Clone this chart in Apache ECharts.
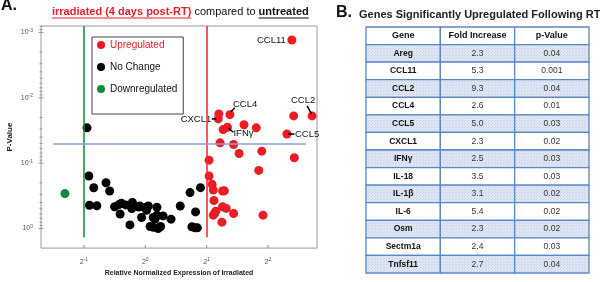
<!DOCTYPE html>
<html>
<head>
<meta charset="utf-8">
<script src="https://cdn.jsdelivr.net/npm/echarts@6/dist/echarts.min.js"></script>
<style>
  body { margin: 0; background: #fff; }
  #chart { width: 600px; height: 282px; }
</style>
</head>
<body>
<div id="chart"></div>
<script>
// scatter: x = log2 relative expression, y = p-value
const upLog2 = [2.39, 1.20, 1.19, 1.38, 1.27, 1.34, 1.61, 1.81, 2.42, 2.72, 2.31, 1.22, 1.44, 1.53, 1.90, 2.43,
  1.04, 1.85, 1.04, 1.09, 1.11, 1.26, 1.29, 1.12, 1.26, 1.32, 1.15, 1.13, 1.11, 1.44, 1.92, 1.25];
const upP = [0.0013, 0.0176, 0.021, 0.0181, 0.0306, 0.0282, 0.0258, 0.0288, 0.0189, 0.0189, 0.0358, 0.0488, 0.0518, 0.071, 0.0655, 0.0826,
  0.0898, 0.129, 0.157, 0.211, 0.258, 0.267, 0.265, 0.373, 0.465, 0.493, 0.543, 0.589, 0.625, 0.589, 0.625, 0.80];
const upLabel = ["CCL11", "", "CXCL1", "CCL4", "", "IFNγ", "", "", "", "CCL2", "CCL5"];

const ncLog2 = [-0.95, -0.92, -0.84, -0.64, -0.58, -0.91, -0.79, -0.50, -0.43, -0.39, -0.32, -0.25, -0.21, -0.22, -0.11, -0.41,
  -0.25, -0.06, -0.09, -0.01, 0.05, 0.02, 0.13, 0.19, 0.29, 0.16, 0.08, 0.13, 0.21, 0.25, 0.42, 0.57, 0.73, 0.90, 0.82,
  0.76, 0.81, 0.85, 0.19];
const ncP = [0.0288, 0.157, 0.238, 0.199, 0.267, 0.441, 0.449, 0.465, 0.43, 0.41, 0.435, 0.44, 0.40, 0.494, 0.468, 0.60,
  0.88, 0.678, 0.452, 0.478, 0.452, 0.525, 0.678, 0.625, 0.641, 0.72, 0.93, 0.96, 1.0, 0.93, 0.72, 0.452, 0.282, 0.237, 0.557,
  0.944, 0.977, 0.977, 0.472];

const dnLog2 = [-1.31];
const dnP = [0.292];

const pCutoff = 0.05;
const foldCut = [-1, 1];

const xTickLabels = [-1, 0, 1, 2];      // 2^n
const yDecades = [-4, -3, -2, -1, 0];   // 10^n
const logMinor = [1, 2, 3, 4, 5, 6, 7, 8, 9];

// table
const tableHead = ["Gene", "Fold Increase", "p-Value"];
const genes = ["Areg", "CCL11", "CCL2", "CCL4", "CCL5", "CXCL1", "IFNγ", "IL-18", "IL-1β", "IL-6", "Osm", "Sectm1a", "Tnfsf11"];
const foldInc = ["2.3", "5.3", "9.3", "2.6", "5.0", "2.3", "2.5", "3.5", "3.1", "5.4", "2.3", "2.4", "2.7"];
const pVals = ["0.04", "0.001", "0.04", "0.01", "0.03", "0.02", "0.03", "0.03", "0.02", "0.02", "0.02", "0.03", "0.04"];

const X_MIN = -1.7, X_MAX = 2.8, Y_MIN = -3.1, Y_MAX = 0.3;
const FONT = '"Liberation Sans", Arial, sans-serif';
const RED = "#ec1c24", GREEN = "#0f8a3c", GRAY = "#9a9a9a";

const toPts = (xs, ps) => xs.map((x, i) => [x, Math.log10(ps[i])]);

// label placement for the named points (px offsets from the dot)
const annot = {
  "CCL11": { dx: -6, dy: 0, align: "right" },
  "CCL4": { dx: 3, dy: -10, align: "left", line: [1, -3, 5, -7] },
  "CXCL1": { dx: -7, dy: 0, align: "right", line: [-6.5, 0, -2, 0] },
  "IFNγ": { dx: 6, dy: 6.5, align: "left", line: [1, 1, 6, 5] },
  "CCL2": { dx: -9, dy: -16, align: "center", line: [-5, -10, -0.5, -2] },
  "CCL5": { dx: 8, dy: 0.5, align: "left", line: [1, 0, 7.5, 0] },
};
const annotData = [];
upLabel.forEach((g, i) => { if (g) annotData.push([upLog2[i], Math.log10(upP[i]), g]); });

const yTicks = [];
yDecades.forEach((d) => logMinor.forEach((k) => {
  const v = d + Math.log10(k);
  if (v >= Y_MIN && v <= Y_MAX) yTicks.push([X_MIN, v, k === 1 ? 1 : 0]);
}));
const xTicks = xTickLabels.map((v) => [v, Y_MAX]);

const cells = [];
[tableHead].concat(genes.map((g, i) => [g, foldInc[i], pVals[i]])).forEach((row, r) => {
  row.forEach((t, c) => cells.push({ value: [c, r], text: t, head: r === 0, shade: r % 2 === 1, bold: r === 0 || c === 0 }));
});

// dotted fill of the shaded table rows
const tile = document.createElement("canvas");
tile.width = 3; tile.height = 3;
const tctx = tile.getContext("2d");
tctx.fillStyle = "#dde6f2";
tctx.fillRect(0, 0, 3, 3);
tctx.fillStyle = "#c8d5e9";
tctx.fillRect(0, 0, 1, 1);
tctx.fillRect(2, 1, 1, 1);
const shadeFill = { image: tile, repeat: "repeat" };

// title pieces, measured so the underlines fit
const mctx = document.createElement("canvas").getContext("2d");
function textW(t, size, bold) {
  mctx.font = (bold ? "bold " : "") + size + "px " + FONT;
  return mctx.measureText(t).width;
}
const titleParts = [
  { t: "irradiated (4 days post-RT)", bold: true, color: RED, under: true },
  { t: " compared to ", bold: false, color: "#111", under: false },
  { t: "untreated", bold: true, color: "#111", under: true },
];
const graphics = [
  { type: "text", left: 1, top: -2, style: { text: "A.", font: "bold 16px " + FONT, fill: "#111" } },
  { type: "text", left: 336, top: 5, style: { text: "B.", font: "bold 16px " + FONT, fill: "#111" } },
  { type: "text", left: 359, top: 9, style: { text: "Genes Significantly Upregulated Following RT", font: "bold 11px " + FONT, fill: "#222" } },
];
let tx = 52;
titleParts.forEach((p) => {
  const w = textW(p.t, 11, p.bold);
  graphics.push({ type: "text", left: tx, top: 6, style: { text: p.t, font: (p.bold ? "bold " : "") + "11px " + FONT, fill: p.color } });
  if (p.under) graphics.push({ type: "line", shape: { x1: tx, y1: 18, x2: tx + w, y2: 18 }, style: { stroke: p.color, lineWidth: 1 } });
  tx += w;
});

const chart = echarts.init(document.getElementById("chart"));
const isInt = (v) => Math.abs(v - Math.round(v)) < 1e-6;

const option = {
  animation: false,
  textStyle: { fontFamily: FONT },
  graphic: graphics,
  legend: {
    orient: "vertical",
    left: 92, top: 37,
    icon: "circle",
    itemWidth: 8, itemHeight: 8, itemGap: 12,
    padding: [3, 6, 20, 5],
    borderColor: "#444", borderWidth: 1,
    selectedMode: false,
    textStyle: { fontSize: 10, color: "#111", lineHeight: 10 },
    data: [{ name: "Upregulated", textStyle: { color: RED } }, "No Change", "Downregulated"],
  },
  grid: [
    { left: 41, top: 26, width: 276, height: 223, show: true, borderColor: GRAY, borderWidth: 1 },
    { left: 366, top: 27, width: 223, height: 246 },
  ],
  xAxis: [
    {
      type: "value", gridIndex: 0, min: X_MIN, max: X_MAX, interval: 0.1,
      name: "Relative Normalized Expression of Irradiated", nameLocation: "middle", nameGap: 20,
      nameTextStyle: { fontSize: 7, fontWeight: "bold", color: "#222" },
      axisLine: { show: false }, axisTick: { show: false }, splitLine: { show: false },
      axisLabel: {
        margin: 9, color: "#555",
        formatter: (v) => (isInt(v) ? "{b|2}{s|" + Math.round(v) + "}" : ""),
        rich: { b: { fontSize: 7, color: "#555" }, s: { fontSize: 5, color: "#555", verticalAlign: "bottom", padding: [0, 0, 4, 0] } },
      },
    },
    { type: "category", gridIndex: 1, data: tableHead, show: false },
  ],
  yAxis: [
    {
      type: "value", gridIndex: 0, min: Y_MIN, max: Y_MAX, interval: 0.1, inverse: true,
      name: "P-Value", nameLocation: "middle", nameGap: 27, nameRotate: 90,
      nameTextStyle: { fontSize: 8, fontWeight: "bold", color: "#222" },
      axisLine: { show: false }, axisTick: { show: false }, splitLine: { show: false },
      axisLabel: {
        margin: 8, color: "#555",
        formatter: (v) => (isInt(v) ? "{b|10}{s|" + Math.round(v) + "}" : ""),
        rich: { b: { fontSize: 7, color: "#555" }, s: { fontSize: 5, color: "#555", verticalAlign: "bottom", padding: [0, 0, 4, 0] } },
      },
    },
    { type: "category", gridIndex: 1, data: ["head"].concat(genes), inverse: true, show: false },
  ],
  series: [
    {
      name: "guides", type: "line", data: [], silent: true, z: 1,
      markLine: {
        silent: true, symbol: "none", label: { show: false }, animation: false,
        data: [
          [{ coord: [foldCut[0], Y_MIN], lineStyle: { color: GREEN, width: 1.5, type: "solid" } }, { coord: [foldCut[0], 0.135] }],
          [{ coord: [foldCut[1], Y_MIN], lineStyle: { color: "#e8262c", width: 1.5, type: "solid" } }, { coord: [foldCut[1], 0.135] }],
          [{ coord: [-1.5, Math.log10(pCutoff)], lineStyle: { color: "#8e9dd8", width: 1.5, type: "solid" } }, { coord: [2.62, Math.log10(pCutoff)] }],
        ],
      },
    },
    {
      name: "axisTicks", type: "custom", xAxisIndex: 0, yAxisIndex: 0, silent: true, z: 2,
      data: yTicks,
      renderItem: (params, api) => {
        const p = api.coord([api.value(0), api.value(1)]);
        const len = api.value(2) ? 2.5 : 1.5;
        return { type: "line", shape: { x1: p[0] - len, y1: p[1], x2: p[0] + len, y2: p[1] }, style: { stroke: "#888", lineWidth: 0.8 } };
      },
    },
    {
      name: "xTicks", type: "custom", xAxisIndex: 0, yAxisIndex: 0, silent: true, z: 2,
      data: xTicks,
      renderItem: (params, api) => {
        const p = api.coord([api.value(0), api.value(1)]);
        return { type: "line", shape: { x1: p[0], y1: p[1], x2: p[0], y2: p[1] - 3 }, style: { stroke: "#888", lineWidth: 1 } };
      },
    },
    { name: "No Change", type: "scatter", symbolSize: 9, itemStyle: { color: "#000", opacity: 1 }, z: 3, data: toPts(ncLog2, ncP) },
    { name: "Upregulated", type: "scatter", symbolSize: 9, itemStyle: { color: RED, opacity: 1 }, z: 3, data: toPts(upLog2, upP) },
    { name: "Downregulated", type: "scatter", symbolSize: 9, itemStyle: { color: GREEN, opacity: 1 }, z: 3, data: toPts(dnLog2, dnP) },
    {
      name: "annotations", type: "custom", xAxisIndex: 0, yAxisIndex: 0, silent: true, z: 4,
      data: annotData,
      renderItem: (params, api) => {
        const p = api.coord([api.value(0), api.value(1)]);
        const a = annot[annotData[params.dataIndex][2]];
        const kids = [{
          type: "text",
          style: { text: annotData[params.dataIndex][2], x: p[0] + a.dx, y: p[1] + a.dy, textAlign: a.align, textVerticalAlign: "middle", fontSize: 9.5, fontFamily: FONT, fill: "#111" },
        }];
        if (a.line) kids.push({ type: "line", shape: { x1: p[0] + a.line[0], y1: p[1] + a.line[1], x2: p[0] + a.line[2], y2: p[1] + a.line[3] }, style: { stroke: "#000", lineWidth: 1.5 } });
        return { type: "group", children: kids };
      },
    },
    {
      name: "table", type: "custom", xAxisIndex: 1, yAxisIndex: 1, silent: true,
      data: cells.map((c) => c.value),
      renderItem: (params, api) => {
        const cell = cells[params.dataIndex];
        const ctr = api.coord([api.value(0), api.value(1)]);
        const sz = api.size([1, 1]);
        return {
          type: "group",
          children: [
            { type: "rect", shape: { x: ctr[0] - sz[0] / 2, y: ctr[1] - sz[1] / 2, width: sz[0], height: sz[1] },
              style: { fill: cell.shade ? shadeFill : "#fff", stroke: "#5b86c6", lineWidth: 1.3 } },
            { type: "text", style: { text: cell.text, x: ctr[0], y: ctr[1], textAlign: "center", textVerticalAlign: "middle",
              fontSize: cell.head ? 9 : 8.5, fontWeight: cell.bold ? "bold" : "normal", fontFamily: FONT, fill: cell.bold ? "#111" : "#333" } },
          ],
        };
      },
    },
  ],
};
chart.setOption(option);
window.onresize = function () {
  chart.resize();
};
</script>
</body>
</html>
